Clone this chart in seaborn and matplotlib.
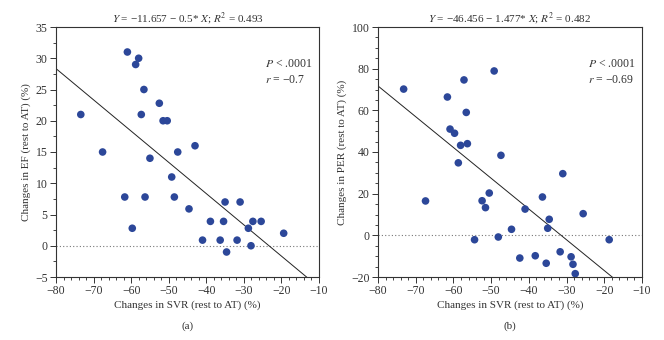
#!/usr/bin/env python3
import seaborn as sns
import matplotlib.pyplot as plt
import numpy as np
import pandas as pd
from matplotlib.ticker import MultipleLocator

sns.set_style("ticks")
plt.rcParams.update({'font.family': ['Liberation Serif', 'DejaVu Serif'],
                     'mathtext.fontset': 'stix',
                     'axes.linewidth': 0.8,
                     'axes.unicode_minus': True})

### data
# panel (a): SVR vs EF
svr_a = [-73.4, -67.6, -61.0, -58.0, -58.8, -56.6, -57.3, -52.5, -51.5, -50.4,
         -55.0, -47.6, -43.0, -61.7, -59.7, -56.3, -49.2, -48.5, -44.6, -41.0,
         -38.9, -36.3, -35.4, -35.0, -34.6, -31.8, -31.0, -28.8, -28.1, -27.6,
         -25.4, -19.4]
ef_a = [21.0, 15.0, 31.0, 30.0, 29.0, 25.0, 21.0, 22.8, 20.0, 20.0,
        14.0, 15.0, 16.0, 7.8, 2.8, 7.8, 11.0, 7.8, 5.9, 0.9,
        3.9, 0.9, 3.9, 7.0, -1.0, 0.9, 7.0, 2.8, 0.0, 3.9,
        3.9, 2.0]
# panel (b): SVR vs PER
svr_b = [-73.2, -61.6, -57.2, -49.2, -56.6, -60.9, -59.7, -58.1, -56.3, -47.4,
         -58.7, -31.0, -50.5, -67.4, -52.4, -36.4, -51.5, -41.0, -25.6, -34.6,
         -44.6, -35.0, -54.4, -48.1, -18.7, -31.7, -42.4, -38.3, -28.8, -35.4,
         -28.3, -27.7]
per_b = [70.2, 66.4, 74.6, 78.9, 59.0, 51.0, 49.0, 43.2, 44.0, 38.4,
         34.8, 29.6, 20.3, 16.5, 16.6, 18.4, 13.3, 12.6, 10.4, 7.7,
         2.9, 3.4, -2.1, -0.8, -2.1, -7.9, -10.9, -9.8, -10.3, -13.4,
         -13.9, -18.4]

fit_a = (-11.657, -0.5)
fit_b = (-46.456, -1.477)
titles = [r'$Y$ = −11.657 − 0.5* $X$; $R^2$ = 0.493',
          r'$Y$ = −46.456 − 1.477* $X$; $R^2$ = 0.482']
stats = [r'$P$ < .0001' + '\n' + r'$r$ = −0.7',
         r'$P$ < .0001' + '\n' + r'$r$ = −0.69']
ylabels = ['Changes in EF (rest to AT) (%)', 'Changes in PER (rest to AT) (%)']
captions = ['(a)', '(b)']

df_a = pd.DataFrame({'svr': svr_a, 'val': ef_a})
df_b = pd.DataFrame({'svr': svr_b, 'val': per_b})

fig = plt.figure(figsize=(6.64, 3.4), dpi=100)
ax1 = fig.add_axes([56/664, 1-277/340, 263/664, 250/340])
ax2 = fig.add_axes([378/664, 1-277/340, 264/664, 250/340])

ylims = [(-5, 35), (-20, 100)]
ymaj = [5, 20]
ymin = [2.5, 5]
dot_color = '#2c4799'
fs = 8
tfs = 8.5

for i, (ax, df, fit) in enumerate([(ax1, df_a, fit_a), (ax2, df_b, fit_b)]):
    ax.axhline(0, color='#777777', lw=0.8, ls=(0, (1, 2)), zorder=1)
    xs = np.array([-80, -10])
    ax.plot(xs, fit[0] + fit[1]*xs, color='#222222', lw=0.7, zorder=2)
    sns.scatterplot(data=df, x='svr', y='val', ax=ax, color=dot_color, s=30,
                    edgecolor='none', zorder=3)
    ax.set_xlim(-80, -10)
    ax.set_ylim(*ylims[i])
    ax.xaxis.set_major_locator(MultipleLocator(10))
    ax.xaxis.set_minor_locator(MultipleLocator(2))
    ax.yaxis.set_major_locator(MultipleLocator(ymaj[i]))
    ax.yaxis.set_minor_locator(MultipleLocator(ymin[i]))
    ax.tick_params(which='major', direction='out', length=4, width=0.7,
                   labelsize=tfs, colors='#333333', pad=2)
    ax.tick_params(which='minor', direction='out', length=2, width=0.6)
    ax.set_xlabel('Changes in SVR (rest to AT) (%)', fontsize=fs, color='#333333', labelpad=2)
    ax.set_ylabel(ylabels[i], fontsize=fs, color='#333333', labelpad=3)
    ax.set_title(titles[i], fontsize=fs, color='#333333', pad=3)
    ax.text(0.795, 0.82, stats[i], transform=ax.transAxes, fontsize=fs + 0.5,
            color='#333333', va='center', linespacing=1.45)
    ax.text(0.5, -0.196, captions[i], transform=ax.transAxes, fontsize=fs,
            color='#333333', ha='center', va='center')
    for s in ax.spines.values():
        s.set_color('#333333')

fig.savefig('out.png', dpi=100)
